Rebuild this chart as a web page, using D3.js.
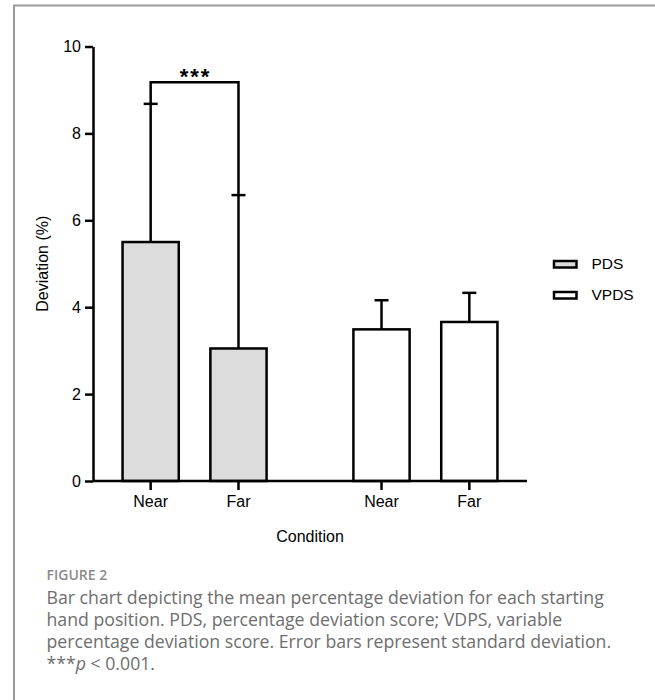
<!DOCTYPE html>
<html>
<head>
<meta charset="utf-8">
<script src="https://cdn.jsdelivr.net/npm/d3@7"></script>
<style>
  body { margin: 0; background: #fff; }
  svg { display: block; }
  .axis text { font-family: "Liberation Sans", Arial, sans-serif; font-size: 16px; fill: #000; }
  .axis path, .axis line { stroke: #000; stroke-width: 2.5; }
  .label { font-family: "Liberation Sans", Arial, sans-serif; font-size: 16px; fill: #000; }
  .caption { font-family: "Open Sans", sans-serif; fill: #6e6e6e; }
</style>
</head>
<body>
<div id="chart"></div>
<script>

  var groups = ['PDS', 'VPDS'],
    conditions = ['Near', 'Far'],
    pdsMeans = [5.5, 3.05],
    pdsSds = [3.18, 3.53],
    vpdsMeans = [3.49, 3.66],
    vpdsSds = [0.67, 0.67],
    yTicks = [0, 2, 4, 6, 8, 10],
    fills = { PDS: '#dcdcdc', VPDS: '#ffffff' };

  var width = 655, height = 700;

  var rows = [];
  conditions.forEach(function (c, i) { rows.push({ group: 'PDS', cond: c, mean: pdsMeans[i], sd: pdsSds[i] }); });
  conditions.forEach(function (c, i) { rows.push({ group: 'VPDS', cond: c, mean: vpdsMeans[i], sd: vpdsSds[i] }); });

  var svg = d3.select('#chart')
    .append('svg')
    .attr('width', width)
    .attr('height', height);

  // frame
  svg.append('path')
    .attr('d', 'M14,700 V5.5 H655')
    .attr('fill', 'none')
    .attr('stroke', '#9a9a9a')
    .attr('stroke-width', 2);

  var y = d3.scaleLinear().domain([0, 10]).range([481, 46.5]);

  var x0 = d3.scaleBand().domain(groups).range([93, 527]).paddingInner(0.3).paddingOuter(0.09);
  var x1 = d3.scaleBand().domain(conditions).range([0, x0.bandwidth()]).paddingInner(0.36).paddingOuter(0.1);

  function cx(d) { return x0(d.group) + x1(d.cond) + x1.bandwidth() / 2; }

  // bars
  svg.selectAll('.bar')
    .data(rows)
    .enter()
    .append('rect')
    .classed('bar', true)
    .attr('x', function (d) { return x0(d.group) + x1(d.cond); })
    .attr('y', function (d) { return y(d.mean); })
    .attr('width', x1.bandwidth())
    .attr('height', function (d) { return y(0) - y(d.mean); })
    .attr('fill', function (d) { return fills[d.group]; })
    .attr('stroke', '#000')
    .attr('stroke-width', 2.5);

  // error bars
  var err = svg.selectAll('.err')
    .data(rows)
    .enter()
    .append('g')
    .classed('err', true);

  err.append('line')
    .attr('x1', cx).attr('x2', cx)
    .attr('y1', function (d) { return y(d.mean); })
    .attr('y2', function (d) { return y(d.mean + d.sd); })
    .attr('stroke', '#000').attr('stroke-width', 2.5);

  err.append('line')
    .attr('x1', function (d) { return cx(d) - 7; })
    .attr('x2', function (d) { return cx(d) + 7; })
    .attr('y1', function (d) { return y(d.mean + d.sd); })
    .attr('y2', function (d) { return y(d.mean + d.sd); })
    .attr('stroke', '#000').attr('stroke-width', 2.5);

  // significance bracket
  var pds = rows.filter(function (d) { return d.group === 'PDS'; }),
    brTop = 9.18;
  svg.append('path')
    .attr('d', 'M' + cx(pds[0]) + ',' + y(pds[0].mean + pds[0].sd) +
      ' V' + y(brTop) + ' H' + cx(pds[1]) + ' V' + y(pds[1].mean + pds[1].sd))
    .attr('fill', 'none')
    .attr('stroke', '#000')
    .attr('stroke-width', 2.5);

  svg.append('text')
    .attr('x', (cx(pds[0]) + cx(pds[1])) / 2 + 1)
    .attr('y', y(brTop) + 2)
    .attr('text-anchor', 'middle')
    .style('font-family', '"Liberation Sans", Arial, sans-serif')
    .style('font-size', '22px')
    .style('font-weight', 'bold')
    .style('letter-spacing', '2px')
    .text('***');

  // y axis
  svg.append('g')
    .classed('axis', true)
    .attr('transform', 'translate(93,0)')
    .call(d3.axisLeft(y).tickValues(yTicks).tickSize(8).tickSizeOuter(0).tickPadding(4));

  // x axis
  var xAxis = svg.append('g').classed('axis', true);
  xAxis.append('line')
    .attr('x1', 93).attr('x2', 527)
    .attr('y1', y(0)).attr('y2', y(0));
  xAxis.selectAll('.xtick')
    .data(rows)
    .enter()
    .append('line')
    .attr('x1', cx).attr('x2', cx)
    .attr('y1', y(0)).attr('y2', y(0) + 9);
  xAxis.selectAll('.xlabel')
    .data(rows)
    .enter()
    .append('text')
    .attr('x', cx)
    .attr('y', 507)
    .attr('text-anchor', 'middle')
    .text(function (d) { return d.cond; });

  svg.append('text')
    .classed('label', true)
    .attr('x', 310)
    .attr('y', 542)
    .attr('text-anchor', 'middle')
    .text('Condition');

  svg.append('text')
    .classed('label', true)
    .attr('transform', 'translate(48,' + (y(0) + y(10)) / 2 + ') rotate(-90)')
    .attr('text-anchor', 'middle')
    .text('Deviation (%)');

  // legend
  var legend = svg.selectAll('.legend')
    .data(groups)
    .enter()
    .append('g')
    .classed('legend', true)
    .attr('transform', function (d, i) { return 'translate(554,' + (261 + i * 31) + ')'; });

  legend.append('rect')
    .attr('width', 22.5)
    .attr('height', 6.5)
    .attr('fill', function (d) { return fills[d]; })
    .attr('stroke', '#000')
    .attr('stroke-width', 2.5);

  legend.append('text')
    .classed('label', true)
    .attr('x', 37.5)
    .attr('y', 8)
    .style('font-size', '15.5px')
    .text(function (d) { return d; });

  // caption
  svg.append('text')
    .classed('caption', true)
    .attr('x', 46.5)
    .attr('y', 580)
    .style('font-size', '14px')
    .style('font-weight', 600)
    .style('fill', '#8a8a8a')
    .text('FIGURE 2');

  var capLines = [
    'Bar chart depicting the mean percentage deviation for each starting',
    'hand position. PDS, percentage deviation score; VDPS, variable',
    'percentage deviation score. Error bars represent standard deviation.'
  ];

  capLines.forEach(function (t, i) {
    svg.append('text')
      .classed('caption', true)
      .attr('x', 46.5)
      .attr('y', 603.5 + i * 22.3)
      .style('font-size', '17.7px')
      .text(t);
  });

  var last = svg.append('text')
    .classed('caption', true)
    .attr('x', 46.5)
    .attr('y', 603.5 + 3 * 22.3)
    .style('font-size', '17.7px');
  last.append('tspan').text('***');
  last.append('tspan').style('font-style', 'italic').text('p');
  last.append('tspan').text(' < 0.001.');

</script>
</body>
</html>
